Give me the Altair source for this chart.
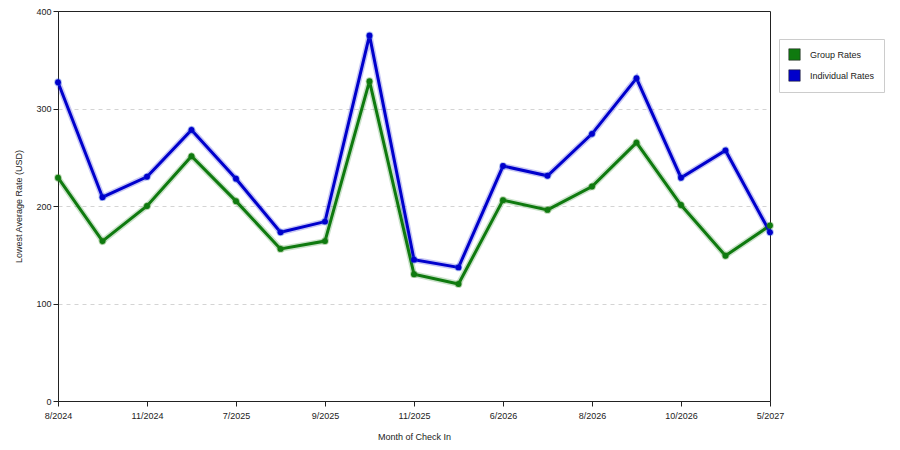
import altair as alt
import pandas as pd

# ===== Data =====
MONTHS = [
    "8/2024", "10/2024", "11/2024", "6/2025", "7/2025", "8/2025",
    "9/2025", "10/2025", "11/2025", "5/2026", "6/2026", "7/2026",
    "8/2026", "9/2026", "10/2026", "4/2027", "5/2027",
]
SHOWN_MONTHS = MONTHS[::2]
GROUP_RATES = [229, 164, 200, 251, 205, 156, 164, 328, 130, 120, 206, 196, 220, 265, 201, 149, 180]
INDIVIDUAL_RATES = [327, 209, 230, 278, 228, 173, 184, 375, 145, 137, 241, 231, 274, 331, 229, 257, 173]

SERIES = ["Group Rates", "Individual Rates"]
LINE_COLORS = ["#0f7a0f", "#0000cc"]
POINT_COLORS = ["#3d8a22", "#1f4fdc"]
FONT = "Liberation Sans"

df = pd.concat([
    pd.DataFrame({"month": MONTHS, "rate": GROUP_RATES, "series": SERIES[0], "order": 0}),
    pd.DataFrame({"month": MONTHS, "rate": INDIVIDUAL_RATES, "series": SERIES[1], "order": 1}),
])

x_enc = alt.X(
    "month:O", sort=MONTHS, title="Month of Check In",
    scale=alt.Scale(type="point", padding=0),
    axis=alt.Axis(values=SHOWN_MONTHS, labelAngle=0, grid=False, tickSize=5,
                  labelPadding=5, titlePadding=12),
)
y_enc = alt.Y(
    "rate:Q", title="Lowest Average Rate (USD)",
    scale=alt.Scale(domain=[0, 400], nice=False),
    axis=alt.Axis(values=[0, 100, 200, 300, 400], grid=True, gridDash=[4, 4],
                  gridColor="#d4d4d4", gridOpacity={"expr": "datum.value >= 400 ? 0 : 1"},
                  tickSize=5, labelPadding=2, titlePadding=12),
)
stroke_enc = alt.Stroke("series:N", scale=alt.Scale(domain=SERIES, range=LINE_COLORS), legend=None)

base = alt.Chart(df).encode(x=x_enc, y=y_enc, detail="series:N", order="order:Q")

halo = base.mark_line(strokeWidth=6, opacity=0.22).encode(stroke=stroke_enc)
lines = base.mark_line(strokeWidth=3).encode(stroke=stroke_enc)
points = base.mark_point(filled=True, size=34, opacity=1, shape="circle").encode(
    color=alt.Color(
        "series:N",
        scale=alt.Scale(domain=SERIES, range=LINE_COLORS),
        legend=alt.Legend(
            title=None, orient="none", legendX=721, legendY=28,
            symbolType="square", symbolSize=130, symbolStrokeColor="#222222",
            symbolStrokeWidth=0.6, labelFontSize=9, labelFont=FONT, labelColor="#222222",
            padding=9, rowPadding=6, labelOffset=9,
            strokeColor="#cccccc", fillColor="#ffffff",
        ),
    )
)
point_glow = base.mark_point(filled=True, size=60, opacity=0.35, shape="circle").encode(
    fill=alt.Fill("series:N", scale=alt.Scale(domain=SERIES, range=POINT_COLORS), legend=None)
)

chart = (
    alt.layer(halo, lines, point_glow, points)
    .resolve_scale(color="independent", stroke="independent", fill="independent")
    .properties(
        width=712, height=390,
        autosize=alt.AutoSizeParams(type="none"),
        padding={"left": 50, "top": 3, "right": 122, "bottom": 42},
        background="#ffffff",
    )
    .configure_view(stroke="#222222", strokeWidth=1)
    .configure_axis(
        labelFont=FONT, titleFont=FONT, labelFontSize=9, titleFontSize=9,
        labelColor="#222222", titleColor="#222222", titleFontWeight="normal",
        domainColor="#222222", tickColor="#222222",
    )
)

chart.save("out.html", embed_options={"renderer": "svg", "actions": False})
